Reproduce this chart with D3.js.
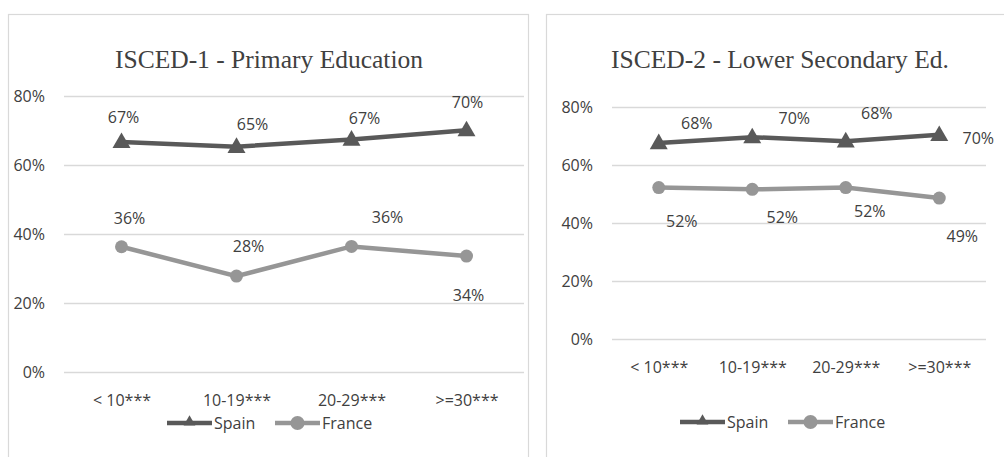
<!DOCTYPE html>
<html>
<head>
<meta charset="utf-8">
<script src="https://cdn.jsdelivr.net/npm/d3@7"></script>
<style>
  body { margin: 0; background: #fff; }
  svg { display: block; }
  .tick text { font-family: "Open Sans", Arial, sans-serif; }
</style>
</head>
<body>
<div id="figure"></div>
<script>
// data
const categories = ["< 10***", "10-19***", "20-29***", ">=30***"];
const yTicks = [0, 20, 40, 60, 80];
const seriesNames = ["Spain", "France"];

const primarySpain = [66.7, 65.3, 67.4, 70.1];
const primaryFrance = [36.3, 27.8, 36.4, 33.6];
const lowerSpain = [67.6, 69.6, 68.2, 70.4];
const lowerFrance = [52.2, 51.6, 52.2, 48.6];

const spainColor = "#595959";
const franceColor = "#969696";
const textColor = "#404040";
const gridColor = "#d9d9d9";
const sans = "'Open Sans', Arial, sans-serif";

const width = 1004, height = 457;

const svg = d3.select("#figure")
    .append("svg")
    .attr("width", width)
    .attr("height", height);

// label placement (dx, dy from the point), as Excel left them
const panels = [
    {
        title: "ISCED-1 - Primary Education",
        box: { x: 8, y: 14, w: 520 },
        plot: { left: 64, right: 524, top: 96, bottom: 372 },
        titleX: 269, xLabelY: 400, legendY: 423, legendX: 167,
        spain: primarySpain, france: primaryFrance,
        spainOff: [[2, -24], [16, -22], [13, -21], [1, -28]],
        franceOff: [[8, -28], [12, -30], [36, -29], [2, 39]]
    },
    {
        title: "ISCED-2 - Lower Secondary Ed.",
        box: { x: 546, y: 14, w: 470 },
        plot: { left: 612, right: 986, top: 107, bottom: 339 },
        titleX: 780, xLabelY: 367, legendY: 422, legendX: 680,
        spain: lowerSpain, france: lowerFrance,
        spainOff: [[38, -20], [42, -19], [31, -28], [39, 4]],
        franceOff: [[23, 34], [30, 28], [24, 24], [23, 38]]
    }
];

const triangle = d3.symbol().type(d3.symbolTriangle).size(140);
const smallTriangle = d3.symbol().type(d3.symbolTriangle).size(60);

function drawPanel(p) {
    const g = svg.append("g");

    // chart area border
    g.append("rect")
        .attr("x", p.box.x + 0.5)
        .attr("y", p.box.y + 0.5)
        .attr("width", p.box.w)
        .attr("height", height)
        .attr("fill", "none")
        .attr("stroke", gridColor)
        .attr("stroke-width", 1.2);

    g.append("text")
        .attr("x", p.titleX)
        .attr("y", 68)
        .attr("text-anchor", "middle")
        .attr("font-family", "'Liberation Serif', 'Times New Roman', serif")
        .attr("font-size", 25.5)
        .attr("fill", textColor)
        .text(p.title);

    const x = d3.scalePoint()
        .domain(categories)
        .range([p.plot.left, p.plot.right])
        .padding(0.5);

    const y = d3.scaleLinear()
        .domain([0, 80])
        .range([p.plot.bottom, p.plot.top]);

    // y axis + gridlines
    const yAxis = g.append("g")
        .attr("transform", `translate(${p.plot.left},0)`)
        .call(d3.axisLeft(y)
            .tickValues(yTicks)
            .tickSize(-(p.plot.right - p.plot.left))
            .tickPadding(19)
            .tickFormat(d => d + "%"));
    yAxis.select(".domain").remove();
    yAxis.selectAll(".tick line").attr("stroke", gridColor).attr("stroke-width", 1.5);
    yAxis.selectAll(".tick text").attr("font-size", 16).attr("fill", textColor);

    // x axis labels
    const xAxis = g.append("g")
        .attr("transform", `translate(0,${p.xLabelY})`)
        .call(d3.axisBottom(x).tickSize(0).tickPadding(0));
    xAxis.select(".domain").remove();
    xAxis.selectAll(".tick text")
        .attr("font-size", 16)
        .attr("fill", textColor)
        .attr("dy", "0.35em")
        .attr("y", 0);

    const line = d3.line()
        .x((d, i) => x(categories[i]))
        .y(d => y(d));

    function series(values, color, marker, offsets) {
        g.append("path")
            .datum(values)
            .attr("d", line)
            .attr("fill", "none")
            .attr("stroke", color)
            .attr("stroke-width", 4.5);

        if (marker === "triangle") {
            g.selectAll(null)
                .data(values)
                .join("path")
                .attr("d", triangle)
                .attr("transform", (d, i) => `translate(${x(categories[i])},${y(d) + 1})`)
                .attr("fill", color);
        } else {
            g.selectAll(null)
                .data(values)
                .join("circle")
                .attr("cx", (d, i) => x(categories[i]))
                .attr("cy", d => y(d))
                .attr("r", 6.5)
                .attr("fill", color);
        }

        g.selectAll(null)
            .data(values)
            .join("text")
            .attr("x", (d, i) => x(categories[i]) + offsets[i][0])
            .attr("y", (d, i) => y(d) + offsets[i][1])
            .attr("dy", "0.35em")
            .attr("text-anchor", "middle")
            .attr("font-family", sans)
            .attr("font-size", 16)
            .attr("fill", textColor)
            .text(d => Math.round(d) + "%");
    }

    series(p.spain, spainColor, "triangle", p.spainOff);
    series(p.france, franceColor, "circle", p.franceOff);

    // legend
    const leg = g.append("g").attr("transform", `translate(${p.legendX},${p.legendY})`);
    const items = [
        { name: seriesNames[0], color: spainColor, marker: "triangle", x: 0 },
        { name: seriesNames[1], color: franceColor, marker: "circle", x: 108 }
    ];
    items.forEach(it => {
        leg.append("line")
            .attr("x1", it.x).attr("x2", it.x + 45)
            .attr("y1", 0).attr("y2", 0)
            .attr("stroke", it.color)
            .attr("stroke-width", 4.5);
        if (it.marker === "triangle") {
            leg.append("path")
                .attr("d", smallTriangle)
                .attr("transform", `translate(${it.x + 22.5},-1)`)
                .attr("fill", it.color);
        } else {
            leg.append("circle")
                .attr("cx", it.x + 22.5).attr("cy", 0).attr("r", 7)
                .attr("fill", it.color);
        }
        leg.append("text")
            .attr("x", it.x + 47)
            .attr("y", 0)
            .attr("dy", "0.35em")
            .attr("font-family", sans)
            .attr("font-size", 16)
            .attr("fill", textColor)
            .text(it.name);
    });
}

panels.forEach(drawPanel);
</script>
</body>
</html>
